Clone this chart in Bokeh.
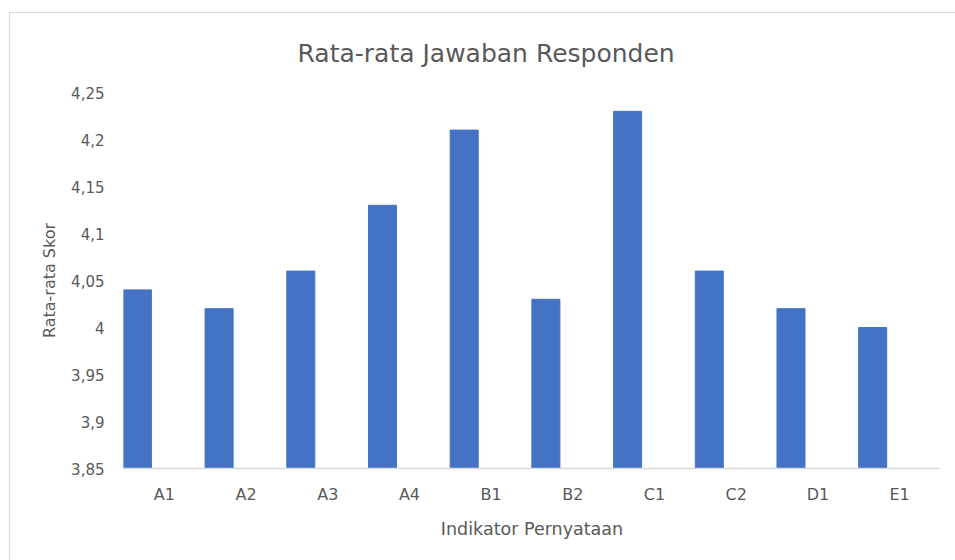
from bokeh.plotting import figure
from bokeh.models import ColumnDataSource, FactorRange, Range1d, FixedTicker, CustomJSTickFormatter, Title
from bokeh.transform import dodge
from bokeh.embed import file_html
from bokeh.resources import INLINE

categories = ["A1", "A2", "A3", "A4", "B1", "B2", "C1", "C2", "D1", "E1"]
values = [4.04, 4.02, 4.06, 4.13, 4.21, 4.03, 4.23, 4.06, 4.02, 4.00]
y_ticks = [3.85, 3.9, 3.95, 4.0, 4.05, 4.1, 4.15, 4.2, 4.25]
title_text = "Rata-rata Jawaban Responden"
x_title = "Indikator Pernyataan"
y_title = "Rata-rata Skor"

FONT = "DejaVu Sans"
GRAY = "#595959"

src = ColumnDataSource(dict(cat=categories, val=values))

p = figure(width=955, height=560, x_range=FactorRange(*categories),
           y_range=Range1d(3.85, 4.25), output_backend="svg", toolbar_location=None,
           min_border_left=123, min_border_right=15, min_border_top=92, min_border_bottom=92)
p.outline_line_color = None
p.xgrid.grid_line_color = None
p.ygrid.grid_line_color = None
p.x_range.range_padding = 0
p.x_range.factor_padding = 0
p.border_fill_color = None
p.styles = {
    "background": "linear-gradient(#d9d9d9,#d9d9d9) 9px 12px / 100% 1px no-repeat, "
                  "linear-gradient(#d9d9d9,#d9d9d9) 9px 12px / 1px 100% no-repeat, white"
}

p.vbar(x=dodge("cat", -0.33, range=p.x_range), top="val", bottom=3.85, width=0.343,
       source=src, fill_color="#4472C4", line_color="#4472C4")

# y axis
ya = p.yaxis[0]
ya.ticker = FixedTicker(ticks=y_ticks)
ya.formatter = CustomJSTickFormatter(code="""
let s = tick.toFixed(2);
s = s.replace(/0+$/, '').replace(/\\.$/, '');
return s.replace('.', ',');
""")
ya.axis_line_color = None
ya.major_tick_line_color = None
ya.minor_tick_line_color = None
ya.major_label_text_font = FONT
ya.major_label_text_font_size = "15px"
ya.major_label_text_color = GRAY
ya.major_label_standoff = 13
ya.axis_label = y_title
ya.axis_label_text_font = FONT
ya.axis_label_text_font_size = "16px"
ya.axis_label_text_font_style = "normal"
ya.axis_label_text_color = GRAY
ya.axis_label_standoff = 9

# x axis
xa = p.xaxis[0]
xa.axis_line_color = "#d9d9d9"
xa.axis_line_width = 1.5
xa.major_tick_line_color = None
xa.minor_tick_line_color = None
xa.major_label_text_font = FONT
xa.major_label_text_font_size = "16px"
xa.major_label_text_color = GRAY
xa.major_label_standoff = 10
xa.axis_label = x_title
xa.axis_label_text_font = FONT
xa.axis_label_text_font_size = "17.5px"
xa.axis_label_text_font_style = "normal"
xa.axis_label_text_color = GRAY
xa.axis_label_standoff = 12

p.title = Title(text=title_text, align="left", offset=174, standoff=50,
                text_font=FONT, text_font_size="25px", text_font_style="normal",
                text_color=GRAY)

open("out.html", "w").write(file_html(p, INLINE))
